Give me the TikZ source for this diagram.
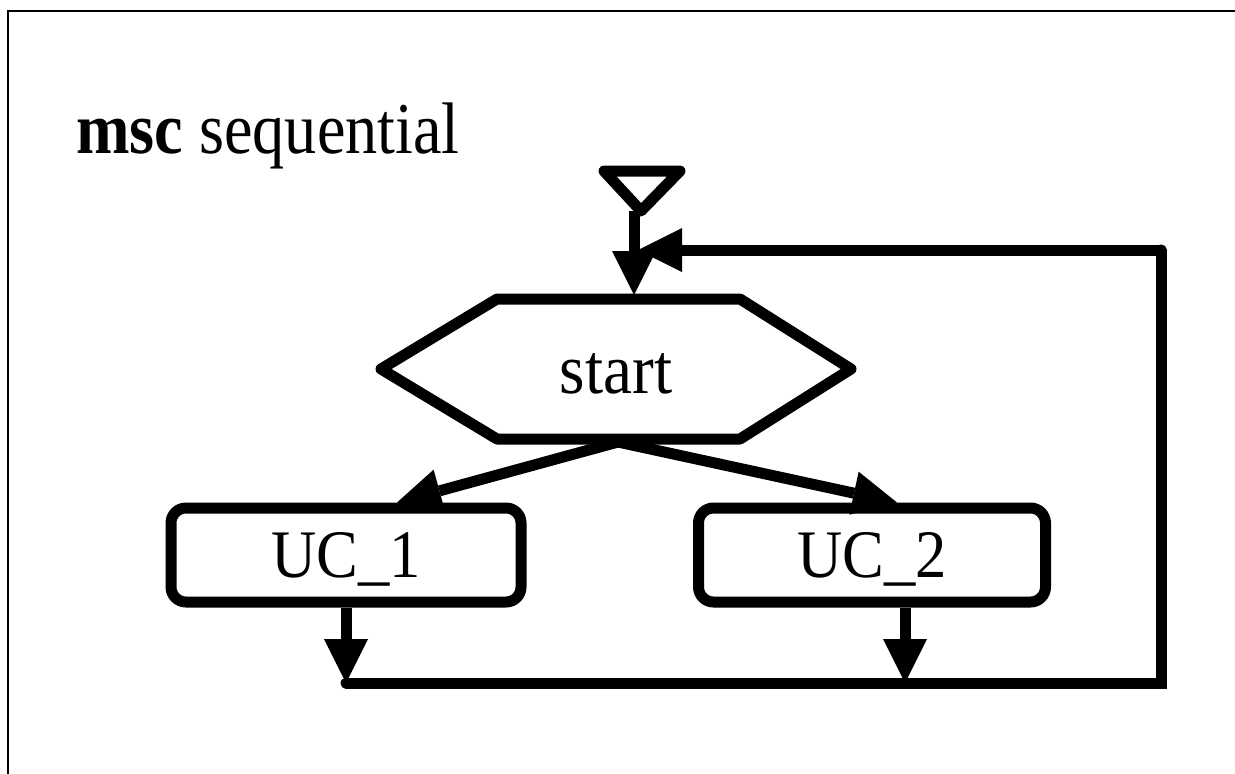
\documentclass[tikz,border=0pt]{standalone}
\usepackage{fontspec}
\setmainfont{Liberation Serif}
\newfontfamily\diafont[FakeStretch=0.88]{Liberation Serif}
\newfontfamily\boxfont[FakeStretch=0.92]{Liberation Serif}
\usetikzlibrary{arrows.meta,calc}
\begin{document}
\begin{tikzpicture}[x=1pt,y=-1pt,
  frame/.style={line width=2.5pt},
  thickline/.style={line width=11pt},
  flow/.style={thickline, -{Triangle[length=44pt,width=44pt,line width=0pt]}},
  ucbox/.style={draw, thickline, rounded corners=15pt, minimum width=350pt,
    minimum height=94pt, inner sep=0pt, text depth=0pt,
    font=\boxfont\fontsize{68pt}{72pt}\selectfont},
  label/.style={font=\boxfont\fontsize{71pt}{76pt}\selectfont, inner sep=0pt}]
\useasboundingbox (0,0) rectangle (1235,774);
\clip (0,0) rectangle (1235,774);

% outer frame (only its left and top edges fall inside the page)
\draw[frame] (8,800) -- (8,11) -- (1260,11);

% title
\node[anchor=base west, inner sep=0pt, font=\diafont\fontsize{73pt}{78pt}\selectfont]
  (title) at (76,153) {\textbf{msc} sequential};

% entry symbol
\draw[thickline, line join=round] (604,171) -- (680,171) -- (641,211) -- cycle;
\coordinate (entry) at (634,211);

% start condition (hexagon)
\draw[thickline, line join=round] (381,369) -- (497,299) -- (740,299) -- (851,369)
  -- (740,439) -- (497,439) -- cycle;
\node[label, anchor=base] (start) at (616,393) {start};
\coordinate (hextop) at (634,295);
\coordinate (fork) at (618,442);

% references
\node[ucbox] (uc1) at (346,555) {UC\_1};
\node[ucbox, minimum width=347pt] (uc2) at (872,555) {UC\_2};

% connectors
\draw[flow] (entry) -- (hextop);
\draw[flow] (fork) -- ($(uc1.north)+(51,0)$);
\draw[flow] (fork) -- ($(uc2.north)+(25,0)$);

\coordinate (rb) at (1161,683);
\coordinate (rt) at (1161,250);
\coordinate (merge) at (638,250);
\coordinate (d2) at ($(uc2.south)+(33,0)$);

\draw[thickline, line cap=round, line join=miter] (uc1.south |- rb) -- (rb) -- (rt);
\draw[flow] (rt) -- (merge);
\draw[flow] (uc1.south) -- (uc1.south |- rb);
\draw[flow] (d2) -- (d2 |- rb);
\end{tikzpicture}
\end{document}
